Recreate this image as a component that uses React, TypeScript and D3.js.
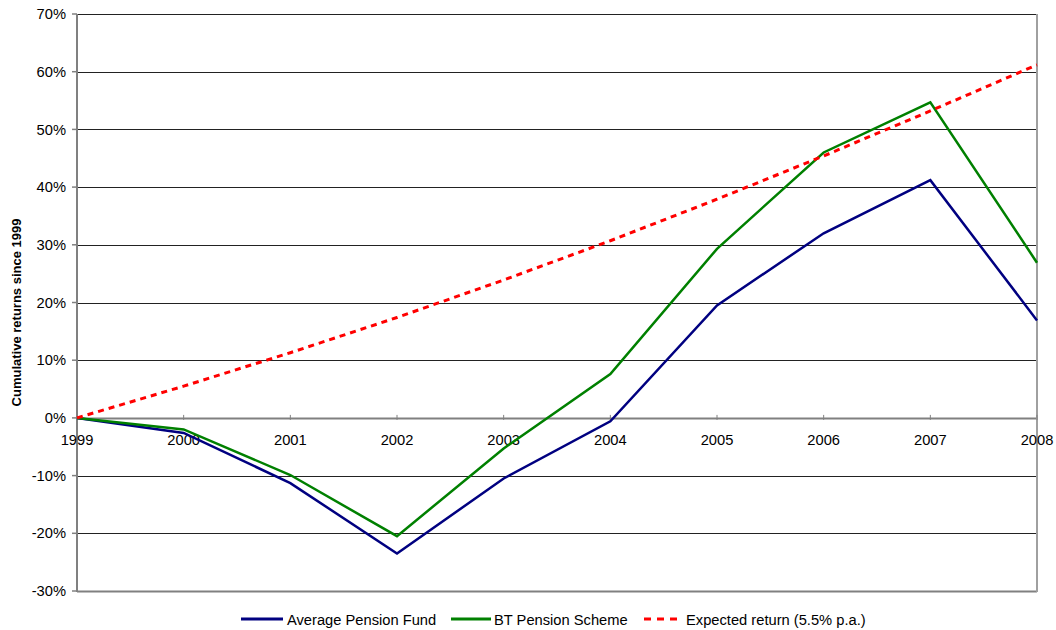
import React from "react";
import * as d3 from "d3";

const years = ["1999", "2000", "2001", "2002", "2003", "2004", "2005", "2006", "2007", "2008"];
const averageFund = [0, -2.6, -11.3, -23.5, -10.5, -0.6, 19.5, 32.0, 41.2, 16.9];
const btScheme = [0, -2.0, -9.9, -20.5, -5.3, 7.6, 29.3, 46.0, 54.7, 26.9];
const expected = [0, 5.5, 11.3, 17.4, 23.9, 30.7, 37.9, 45.4, 53.2, 61.2];
const yTicks = [70, 60, 50, 40, 30, 20, 10, 0, -10, -20, -30];

const W = 1056;
const H = 630;
const left = 77;
const right = 1037;
const top = 14;
const bottom = 591;
const font = "Liberation Sans, Arial, sans-serif";
const fs = 14.7;

export default function App() {
  const x = d3.scalePoint<string>().domain(years).range([left, right]);
  const y = d3.scaleLinear().domain([-30, 70]).range([bottom, top]);
  const line = d3
    .line<number>()
    .x((_, i) => x(years[i]) as number)
    .y((d) => y(d));

  const series = [
    { name: "Average Pension Fund", values: averageFund, color: "#000080", dash: undefined },
    { name: "BT Pension Scheme", values: btScheme, color: "#008000", dash: undefined },
    { name: "Expected return (5.5% p.a.)", values: expected, color: "#ff0000", dash: "6 5" },
  ];

  const legend = [
    { x1: 241, x2: 283, tx: 287 },
    { x1: 451, x2: 491, tx: 494 },
    { x1: 644, x2: 682, tx: 686 },
  ];

  return (
    <svg width={W} height={H} style={{ position: "absolute", left: 0, top: 0, background: "#fff" }}>
      {/* horizontal gridlines */}
      {yTicks.map((t) => (
        <line
          key={"g" + t}
          x1={left}
          x2={right}
          y1={Math.round(y(t)) + 0.5}
          y2={Math.round(y(t)) + 0.5}
          stroke={t === 0 || t === -30 ? "#808080" : "#222"}
          strokeWidth={t === 0 || t === -30 ? 2 : 1}
        />
      ))}
      {/* left axis and right border */}
      <line x1={left} x2={left} y1={top} y2={bottom + 1} stroke="#808080" strokeWidth={2} />
      <line x1={right} x2={right} y1={top} y2={bottom + 1} stroke="#a0a0a0" strokeWidth={2} />
      {/* y tick marks and labels */}
      {yTicks.map((t) => (
        <g key={"yt" + t}>
          <line x1={left - 5} x2={left} y1={y(t)} y2={y(t)} stroke="#808080" strokeWidth={1.5} />
          <text
            x={66}
            y={y(t)}
            dy="0.35em"
            textAnchor="end"
            fontFamily={font}
            fontSize={fs}
            fill="#000"
          >
            {t}%
          </text>
        </g>
      ))}
      {/* x tick marks and labels at 0% */}
      {years.map((yr) => (
        <g key={"xt" + yr}>
          <line
            x1={x(yr) as number}
            x2={x(yr) as number}
            y1={y(0) - 3}
            y2={y(0) + 2}
            stroke="#808080"
            strokeWidth={1}
          />
          <text
            x={x(yr) as number}
            y={445}
            textAnchor="middle"
            fontFamily={font}
            fontSize={fs}
            fill="#000"
          >
            {yr}
          </text>
        </g>
      ))}
      {/* series */}
      {series.map((s) => (
        <path
          key={s.name}
          d={line(s.values) || ""}
          fill="none"
          stroke={s.color}
          strokeWidth={s.dash ? 3 : 2.5}
          strokeDasharray={s.dash}
          strokeLinejoin="miter"
        />
      ))}
      {/* y axis title */}
      <text
        transform={`translate(21,${(top + bottom) / 2 + 10}) rotate(-90)`}
        textAnchor="middle"
        fontFamily={font}
        fontSize={13}
        fontWeight="bold"
        fill="#000"
      >
        Cumulative returns since 1999
      </text>
      {/* legend */}
      {series.map((s, i) => (
        <g key={"lg" + s.name}>
          <line
            x1={legend[i].x1}
            x2={legend[i].x2}
            y1={619}
            y2={619}
            stroke={s.color}
            strokeWidth={3}
            strokeDasharray={s.dash ? "7 6" : undefined}
          />
          <text x={legend[i].tx} y={624.5} fontFamily={font} fontSize={fs} fill="#000">
            {s.name}
          </text>
        </g>
      ))}
    </svg>
  );
}
